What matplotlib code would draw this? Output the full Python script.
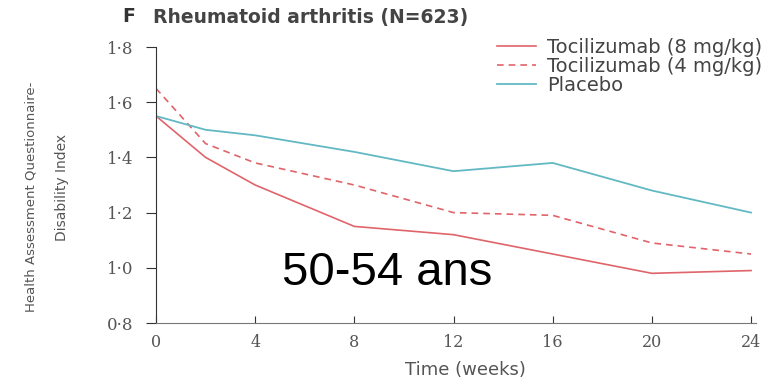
import numpy as np
import matplotlib.pyplot as plt

weeks = [0, 2, 4, 8, 12, 16, 20, 24]
toci8 = [1.55, 1.40, 1.30, 1.15, 1.12, 1.05, 0.98, 0.99]
toci4 = [1.65, 1.45, 1.38, 1.30, 1.20, 1.19, 1.09, 1.05]
placebo = [1.55, 1.50, 1.48, 1.42, 1.35, 1.38, 1.28, 1.20]

xticks = [0, 4, 8, 12, 16, 20, 24]
yticks = [0.8, 1.0, 1.2, 1.4, 1.6, 1.8]
ylabels = ["0·8", "1·0", "1·2", "1·4", "1·6", "1·8"]

red = "#e0646a"
cyan = "#62b9c3"
grey = "#555555"

fig = plt.figure(figsize=(7.82, 3.83), dpi=100)
ax = fig.add_axes([156 / 782, 1 - 323 / 383, 600 / 782, 276 / 383])

ax.plot(weeks, toci8, color=red, lw=1.2, label="Tocilizumab (8 mg/kg)")
ax.plot(weeks, toci4, color=red, lw=1.2, ls=(0, (4, 3)), label="Tocilizumab (4 mg/kg)")
ax.plot(weeks, placebo, color=cyan, lw=1.3, label="Placebo")

ax.set_xlim(0, 24.2)
ax.set_ylim(0.8, 1.8)
ax.set_xticks(xticks)
ax.set_xticklabels([str(t) for t in xticks], fontsize=11.5, color=grey, family="DejaVu Serif")
ax.set_yticks(yticks)
ax.set_yticklabels(ylabels, fontsize=12, color=grey, family="DejaVu Serif")
ax.tick_params(axis="y", direction="out", length=7, color="#333333", pad=9)
ax.tick_params(axis="x", direction="in", length=5, color="#333333", pad=8)
for s in ["top", "right"]:
    ax.spines[s].set_visible(False)
ax.spines["left"].set_color("#333333")
ax.spines["bottom"].set_color("#777777")

# x label and two-line y label placed by hand
fig.text(465 / 782, 1 - 370 / 383, "Time (weeks)", fontsize=13, color=grey,
         ha="center", va="center")
fig.text(31 / 782, 1 - 197 / 383, "Health Assessment Questionnaire-", fontsize=9.5,
         color=grey, rotation=90, ha="center", va="center")
fig.text(62 / 782, 1 - 187 / 383, "Disability Index", fontsize=10,
         color=grey, rotation=90, ha="center", va="center")

leg = ax.legend(loc="upper right", bbox_to_anchor=(1.04, 1.095), frameon=False,
                fontsize=14, handlelength=2.0, labelspacing=0.0, handletextpad=0.6)
for t in leg.get_texts():
    t.set_color("#444444")

fig.text(122 / 782, 1 - 17 / 383, "F", fontsize=13.5, fontweight="bold", color="#333333", va="center")
fig.text(153 / 782, 1 - 17 / 383, "Rheumatoid arthritis (N=623)", fontsize=13.5,
         fontweight="bold", color="#444444", va="center")

fig.text(387 / 782, 1 - 273 / 383, "50-54 ans", fontsize=34, color="black",
         family="Liberation Sans", ha="center", va="center")

fig.savefig("out.png", dpi=100)
